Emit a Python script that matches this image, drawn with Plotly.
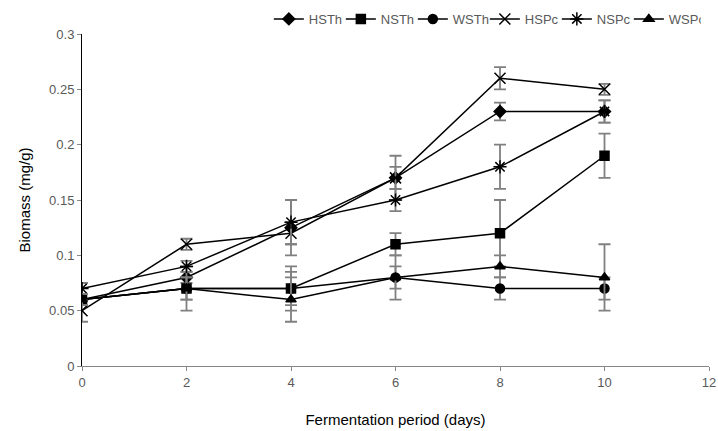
import plotly.graph_objects as go

days = [0, 2, 4, 6, 8, 10]

hsth = [0.06, 0.08, 0.125, 0.17, 0.23, 0.23]
hsth_err = [0.005, 0.005, 0.025, 0.02, 0.008, 0.01]
nsth = [0.06, 0.07, 0.07, 0.11, 0.12, 0.19]
nsth_err = [0.005, 0.01, 0.02, 0.01, 0.03, 0.02]
wsth = [0.06, 0.07, 0.07, 0.08, 0.07, 0.07]
wsth_err = [0.005, 0.02, 0.015, 0.02, 0.01, 0.01]
hspc = [0.05, 0.11, 0.12, 0.17, 0.26, 0.25]
hspc_err = [0.01, 0.005, 0.01, 0.01, 0.01, 0.005]
nspc = [0.07, 0.09, 0.13, 0.15, 0.18, 0.23]
nspc_err = [0.005, 0.005, 0.02, 0.01, 0.02, 0.01]
wspc = [0.06, 0.07, 0.06, 0.08, 0.09, 0.08]
wspc_err = [0.005, 0.01, 0.02, 0.01, 0.01, 0.03]

series = [
    ("HSTh", hsth, hsth_err, "diamond", 9),
    ("NSTh", nsth, nsth_err, "square", 9),
    ("WSTh", wsth, wsth_err, "circle", 9),
    ("HSPc", hspc, hspc_err, "x-thin", 11),
    ("NSPc", nspc, nspc_err, "asterisk", 11),
    ("WSPc", wspc, wspc_err, "triangle-up", 9),
]

fig = go.Figure()
for name, ys, errs, sym, sz in series:
    fig.add_trace(go.Scatter(
        x=days, y=ys, name=name, mode="lines+markers",
        line=dict(color="black", width=1.5),
        marker=dict(symbol=sym, size=sz, color="black",
                    line=dict(color="black", width=1.5)),
        error_y=dict(type="data", array=errs, visible=True,
                     color="#808080", thickness=1.8, width=6),
    ))

fig.update_layout(
    width=718, height=431,
    margin=dict(l=82, r=9, t=34, b=65, autoexpand=False),
    paper_bgcolor="white", plot_bgcolor="white",
    font=dict(family="Liberation Sans, Arial", color="#595959", size=13),
    showlegend=True,
    legend=dict(orientation="h", x=0.298, xanchor="left", y=1.0, yanchor="bottom",
                font=dict(size=13, color="#595959"), bgcolor="rgba(0,0,0,0)",
                itemwidth=30, tracegroupgap=0,
                entrywidth=27, entrywidthmode="pixels"),
    xaxis=dict(range=[0, 12], dtick=2, tick0=0, showgrid=False, zeroline=False,
               showline=True, linecolor="#868686", linewidth=1,
               ticks="outside", ticklen=4, tickcolor="#868686",
               title=dict(text="Fermentation period (days)",
                          font=dict(size=15, color="black"), standoff=25)),
    yaxis=dict(range=[0, 0.3], dtick=0.05, tick0=0, showgrid=False, zeroline=False,
               showline=True, linecolor="black", linewidth=1,
               ticks="outside", ticklen=4, tickcolor="#868686",
               title=dict(text="Biomass (mg/g)",
                          font=dict(size=15, color="black"), standoff=14)),
)

# remove the default 8px page margin so the figure sits at the window's corner
fig.write_html("out.html", config={"displayModeBar": False},
               post_script="document.body.style.margin='0';document.body.style.overflow='hidden';")
